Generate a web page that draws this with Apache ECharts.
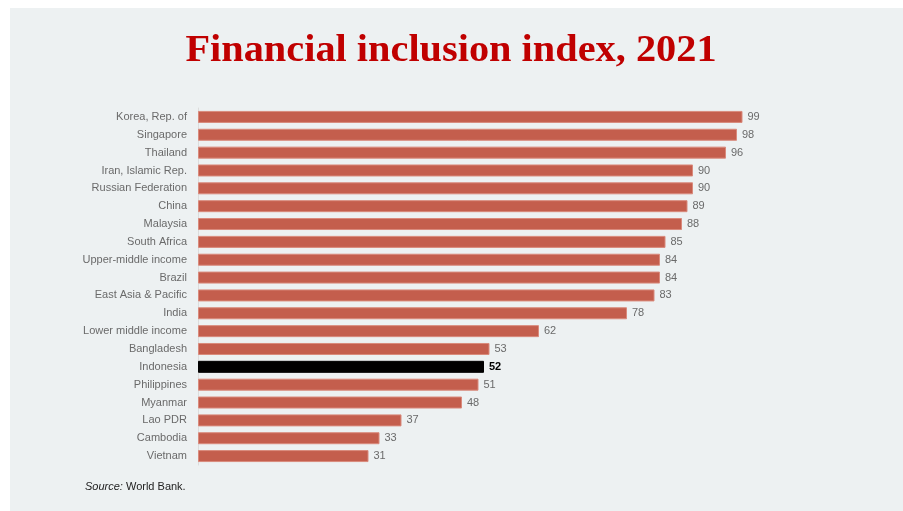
<!DOCTYPE html>
<html>
<head>
<meta charset="utf-8">
<script src="https://cdn.jsdelivr.net/npm/echarts@6/dist/echarts.min.js"></script>
<style>
html,body{margin:0;padding:0;background:#ffffff;}
#chart{width:903px;height:511px;}
</style>
</head>
<body>
<div id="chart"></div>
<script>
const categories = ["Korea, Rep. of","Singapore","Thailand","Iran, Islamic Rep.","Russian Federation","China","Malaysia","South Africa","Upper-middle income","Brazil","East Asia & Pacific","India","Lower middle income","Bangladesh","Indonesia","Philippines","Myanmar","Lao PDR","Cambodia","Vietnam"];
const values = [99,98,96,90,90,89,88,85,84,84,83,78,62,53,52,51,48,37,33,31];
const highlight = "Indonesia";

const chart = echarts.init(document.getElementById('chart'));
const data = values.map((v,i)=>{
  const hi = categories[i] === highlight;
  return {
    value: v,
    itemStyle: hi ? {color:'#000000', borderColor:'#000000'} : {color:'#c45e4d', borderColor:'#d98a7c'},
    label: hi ? {color:'#000000', fontWeight:'bold'} : {}
  };
});
chart.setOption({
  backgroundColor:'#ffffff',
  animation:false,
  graphic:[
    {type:'rect', z:-10, shape:{x:10,y:8,width:893,height:503}, style:{fill:'#edf1f2'}},
    {type:'text', x:451, y:51, scaleX:1.09, originX:0, originY:0,
      style:{text:'Financial inclusion index, 2021', fill:'#c00000', font:'bold 37px "Liberation Serif", serif', align:'center', verticalAlign:'middle'}},
    {type:'text', left:85, top:481, style:{rich:{i:{fontStyle:'italic', fontFamily:'"Liberation Sans", Arial', fontSize:11, fill:'#222'}, n:{fontFamily:'"Liberation Sans", Arial', fontSize:11, fill:'#222'}}, text:'{i|Source:}{n| World Bank.}'}}
  ],
  grid:{left:198, top:108, width:550, height:357, containLabel:false},
  xAxis:{type:'value', min:0, max:100, show:false},
  yAxis:{type:'category', inverse:true, data:categories,
    axisLine:{show:true, lineStyle:{color:'#dcdcdc', width:1}},
    axisTick:{show:false},
    axisLabel:{color:'#6a6a6a', fontSize:11, fontFamily:'"Liberation Sans", Arial', margin:11}
  },
  series:[{type:'bar', data:data, barWidth:12,
    itemStyle:{borderWidth:1},
    label:{show:true, position:'right', distance:5, color:'#6a6a6a', fontSize:11, fontFamily:'"Liberation Sans", Arial'}
  }]
});
</script>
</body>
</html>
